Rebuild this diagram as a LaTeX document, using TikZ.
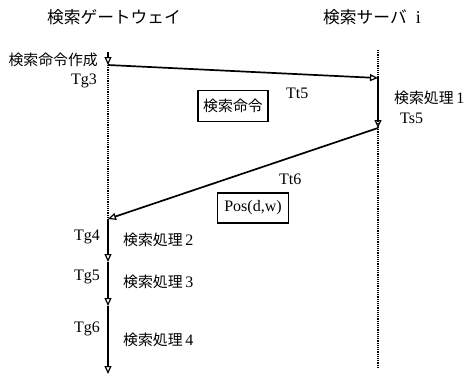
\documentclass[tikz,border=0pt]{standalone}
\usepackage{fontspec}
\setmainfont{Liberation Serif}
\newfontfamily\jp[Scale=0.93]{Noto Sans CJK JP}
\usetikzlibrary{arrows.meta}

\begin{document}
\begin{tikzpicture}[x=1pt, y=-1pt,
  msg/.style={-{Triangle[open,length=8pt,width=7pt,line width=1.2pt]}, line width=1.7pt},
  life/.style={densely dotted, line width=1.2pt},
  lbl/.style={font=\fontsize{16}{18}\selectfont, inner sep=0pt},
  head/.style={font=\fontsize{18}{20}\selectfont, inner sep=0pt},
  msgbox/.style={lbl, draw, line width=1.6pt}]
  \useasboundingbox (0,0) rectangle (464,376);
  % Lifelines
  \node[head] (gw) at (114,17) {\jp 検索ゲートウェイ};
  \node[head] (srv) at (372,17) {{\jp 検索サーバ}\ \ i};
  \coordinate (g0) at (108,52);
  \coordinate (g1) at (108,65);
  \coordinate (g2) at (108,219);
  \coordinate (g3) at (108,262);
  \coordinate (g4) at (108,306);
  \coordinate (g5) at (108,374);
  \coordinate (s0) at (378,50);
  \coordinate (s1) at (378,78);
  \coordinate (s2) at (378,128);
  \coordinate (s3) at (378,368);
  \draw[life] (g1) -- (g2);
  \draw[life] (s0) -- (s3);
  % Search command
  \draw[msg] (g0) -- (g1);
  \node[lbl, anchor=east] (make) at (98,60) {\jp 検索命令作成};
  \node[lbl, anchor=east] (tg3) at (97,81) {Tg3};
  \draw[msg] (g1) -- (s1);
  \node[lbl, anchor=west] (tt5) at (286,93) {Tt5};
  \node[msgbox, minimum width=70pt, minimum height=31pt] (cmd) at (233,106)
    {\jp 検索命令};
  % Server side
  \draw[msg] (s1) -- (s2);
  \node[lbl, anchor=west] (sp1) at (394,98) {{\jp 検索処理}\,1};
  \node[lbl, anchor=west] (ts5) at (400,118) {Ts5};
  % Reply
  \draw[msg] (s2) -- (g2);
  \node[lbl, anchor=west] (tt6) at (279,179) {Tt6};
  \node[msgbox, minimum width=71pt, minimum height=30pt] (pos) at (253,208)
    {Pos(d,w)};
  % Gateway side
  \draw[msg] (g2) -- (g3);
  \draw[msg] (g3) -- (g4);
  \draw[msg] (g4) -- (g5);
  \node[lbl, anchor=east] (tg4) at (100,237) {Tg4};
  \node[lbl, anchor=east] (tg5) at (100,277) {Tg5};
  \node[lbl, anchor=east] (tg6) at (100,329) {Tg6};
  \node[lbl, anchor=west] (gp2) at (123,240) {{\jp 検索処理}\,2};
  \node[lbl, anchor=west] (gp3) at (123,282) {{\jp 検索処理}\,3};
  \node[lbl, anchor=west] (gp4) at (123,340) {{\jp 検索処理}\,4};
\end{tikzpicture}
\end{document}
